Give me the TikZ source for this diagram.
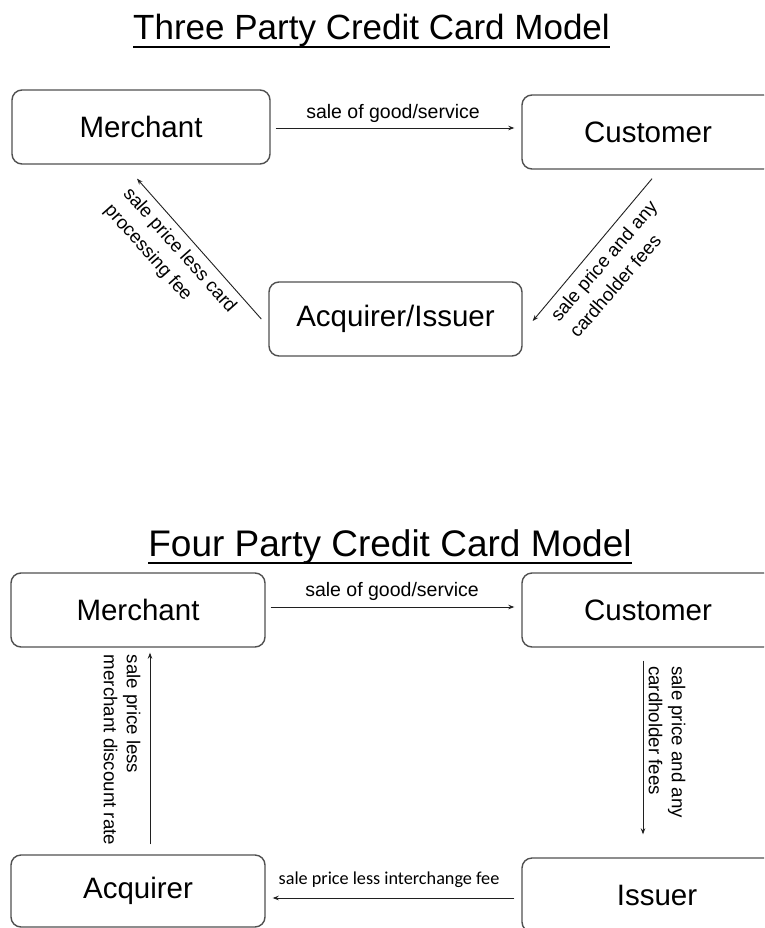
\documentclass[tikz,border=0pt]{standalone}
\usepackage{fontspec}
\setmainfont{Liberation Sans}
\newfontfamily\carlito{Carlito}
\usetikzlibrary{arrows.meta}
\definecolor{boxgray}{HTML}{505050}
\definecolor{arrgray}{HTML}{202020}
\begin{document}
\begin{tikzpicture}[x=1pt,y=-1pt,
  box/.style={draw=boxgray, line width=1.4pt, rounded corners=10pt, minimum height=74pt, inner sep=0pt, font=\fontsize{29.5}{32}\selectfont},
  arr/.style={draw=arrgray, line width=0.9pt, -{Stealth[length=6pt,width=4.5pt]}},
  lab/.style={font=\fontsize{18.7}{23}\selectfont, inner sep=0pt, align=left},
  dlab/.style={font=\fontsize{18.7}{25}\selectfont, inner sep=0pt, align=left},
  hlab/.style={font=\fontsize{19.5}{22}\selectfont, inner sep=0pt},
  ttl/.style={inner sep=0pt, anchor=base}]
\clip (0,0) rectangle (764,928);
\fill[white] (0,0) rectangle (764,928);
% titles
\node[ttl, font=\fontsize{35}{40}\selectfont] (t3) at (371.5,40) {Three Party Credit Card Model};
\draw[line width=2.5pt] ([yshift=-7pt]t3.base west) -- ([yshift=-7pt]t3.base east);
\node[ttl, font=\fontsize{37}{42}\selectfont] (t4) at (390,556) {Four Party Credit Card Model};
\draw[line width=2.5pt] ([yshift=-7pt]t4.base west) -- ([yshift=-7pt]t4.base east);
% three party
\node[box, minimum width=258pt] (m3) at (141,127) {Merchant};
\node[box, minimum width=252pt] (c3) at (648,132) {Customer};
\node[box, minimum width=253pt] (a3) at (395.5,319) {Acquirer/Issuer};
\draw[arr] ([shift={(5pt,-1pt)}]m3.east) -- ([shift={(-7pt,4pt)}]c3.west);
\draw[arr] ([xshift=-7pt]a3.west) -- ([shift={(-4pt,-14pt)}]m3.south);
\draw[arr] ([shift={(4pt,-9pt)}]c3.south) -- ([shift={(10pt,-2pt)}]a3.east);
\node[hlab] (l1) at (393,113) {sale of good/service};
\node[dlab, rotate=-48.4] (l2) at (170,259) {sale price less card\\processing fee};
\node[dlab, rotate=49.2] (l3) at (613,269) {sale price and any\\cardholder fees};
% four party
\node[box, minimum width=254pt] (m4) at (138,610) {Merchant};
\node[box, minimum width=252pt] (c4) at (648,610) {Customer};
\node[box, minimum width=254pt, minimum height=72pt] (a4) at (138,891) {Acquirer};
\node[box, minimum width=270pt] (i4) at (657,895) {Issuer};
\draw[arr] ([shift={(5pt,3pt)}]m4.east) -- ([shift={(-7pt,3pt)}]c4.west);
\draw[arr] ([shift={(12pt,10pt)}]a4.north) -- ([shift={(12pt,-5pt)}]m4.south);
\draw[arr] ([shift={(-5pt,-13pt)}]c4.south) -- ([shift={(-14pt,23pt)}]i4.north);
\draw[arr] ([shift={(-7pt,-3pt)}]i4.west) -- ([shift={(7pt,-7pt)}]a4.east);
\node[hlab] (l4) at (392,591) {sale of good/service};
\node[lab, rotate=-90] (l5) at (122,750) {sale price less\\merchant discount rate};
\node[lab, rotate=-90] (l6) at (667,742) {sale price and any\\cardholder fees};
\node[hlab, font=\carlito\fontsize{18.2}{20}\selectfont] (l7) at (389,880) {sale price less interchange fee};
\end{tikzpicture}
\end{document}
